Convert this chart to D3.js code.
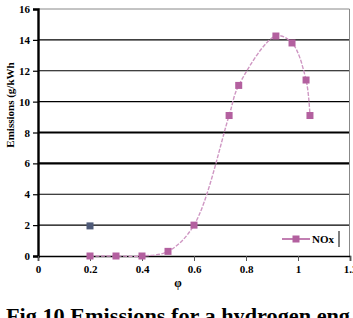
<!DOCTYPE html>
<html>
<head>
<meta charset="utf-8">
<script src="https://cdn.jsdelivr.net/npm/d3@7"></script>
<style>
  body { margin: 0; background: #fff; }
  svg { display: block; }
  text { font-family: "Liberation Serif", "Times New Roman", serif; font-weight: bold; }
</style>
</head>
<body>
<div id="chart"></div>
<script>
var phi = [0.2, 0.3, 0.4, 0.5, 0.6, 0.735, 0.772, 0.915, 0.977, 1.031, 1.046];
var nox = [0, 0, 0, 0.3, 2, 9.1, 11.05, 14.25, 13.8, 11.4, 9.1];
var extraPhi = [0.2];
var extraVal = [1.95];
var xTicks = [0, 0.2, 0.4, 0.6, 0.8, 1, 1.2];
var xTickLabels = ["0", "0.2", "0.4", "0.6", "0.8", "1", "1.2"];
var yTicks = [0, 2, 4, 6, 8, 10, 12, 14, 16];
var thickGrid = [6, 8];

var W = 353, H = 318;
var svg = d3.select("#chart").append("svg")
    .attr("width", W)
    .attr("height", H);

var x = d3.scaleLinear().domain([0, 1.2]).range([38, 350]);
var y = d3.scaleLinear().domain([0, 16]).range([256, 9]);

// gridlines
svg.append("g").selectAll("line")
    .data(yTicks.filter(function(d) { return d > 0 && d < 16; }))
    .enter().append("line")
    .attr("x1", x(0)).attr("x2", 349)
    .attr("y1", function(d) { return y(d); })
    .attr("y2", function(d) { return y(d); })
    .attr("stroke", "#000")
    .attr("stroke-width", function(d) { return thickGrid.indexOf(d) >= 0 ? 2.2 : 1.2; });

// plot border top / right (gray)
svg.append("line").attr("x1", x(0)).attr("x2", 349.5)
    .attr("y1", y(16)).attr("y2", y(16))
    .attr("stroke", "#888").attr("stroke-width", 1);
svg.append("line").attr("x1", 349.5).attr("x2", 349.5)
    .attr("y1", y(16)).attr("y2", y(0))
    .attr("stroke", "#888").attr("stroke-width", 1);

// y axis
var yAxis = d3.axisLeft(y).tickValues(yTicks).tickSize(5).tickFormat(d3.format("d"));
var gy = svg.append("g").attr("transform", "translate(" + x(0) + ",0)").call(yAxis);
gy.select(".domain").attr("stroke-width", 2.4);
gy.selectAll(".tick line").attr("stroke-width", 1.2);
gy.selectAll("text").attr("font-size", 11).attr("x", -8)
    .attr("font-family", "Liberation Serif").attr("font-weight", "bold");

// x axis
var xAxis = d3.axisBottom(x).tickValues(xTicks).tickSize(5)
    .tickFormat(function(d, i) { return xTickLabels[i]; });
var gx = svg.append("g").attr("transform", "translate(0," + y(0) + ")").call(xAxis);
gx.select(".domain").attr("stroke-width", 1.6);
gx.selectAll(".tick line").attr("stroke", "#555");
gx.selectAll("text").attr("font-size", 11).attr("y", 9)
    .attr("font-family", "Liberation Serif").attr("font-weight", "bold");

// smooth NOx line
var pts = phi.map(function(p, i) { return [p, nox[i]]; });
var line = d3.line()
    .x(function(d) { return x(d[0]); })
    .y(function(d) { return y(d[1]); })
    .curve(d3.curveCatmullRom.alpha(0.5));
svg.append("path")
    .datum(pts)
    .attr("d", line)
    .attr("fill", "none")
    .attr("stroke", "#cf97c3")
    .attr("stroke-width", 1.4)
    .attr("stroke-dasharray", "4,1.5");

// markers
svg.append("g").selectAll("rect")
    .data(pts)
    .enter().append("rect")
    .attr("x", function(d) { return x(d[0]) - 3.5; })
    .attr("y", function(d) { return y(d[1]) - 3.5; })
    .attr("width", 7).attr("height", 7)
    .attr("fill", "#b3609f");

svg.append("g").selectAll("rect")
    .data(extraPhi.map(function(p, i) { return [p, extraVal[i]]; }))
    .enter().append("rect")
    .attr("x", function(d) { return x(d[0]) - 3.5; })
    .attr("y", function(d) { return y(d[1]) - 3.5; })
    .attr("width", 7).attr("height", 7)
    .attr("fill", "#4e5a78");

// legend
var lg = svg.append("g").attr("transform", "translate(282,239)");
lg.append("line").attr("x1", 0).attr("x2", 28).attr("y1", 0).attr("y2", 0)
    .attr("stroke", "#b3609f").attr("stroke-width", 1.6);
lg.append("rect").attr("x", 10.5).attr("y", -3.5).attr("width", 7).attr("height", 7)
    .attr("fill", "#b3609f");
lg.append("text").attr("x", 30).attr("y", 4).attr("font-size", 11).text("NOx");
lg.append("line").attr("x1", 57).attr("x2", 57).attr("y1", -8).attr("y2", 8)
    .attr("stroke", "#000").attr("stroke-width", 1);

// axis titles
svg.append("text")
    .attr("transform", "translate(14,105) rotate(-90)")
    .attr("text-anchor", "middle")
    .attr("font-size", 11)
    .text("Emissions (g/kWh");
svg.append("text")
    .attr("x", 178).attr("y", 287)
    .attr("text-anchor", "middle")
    .attr("font-size", 12)
    .text("φ");

// caption (cut off at the bottom edge, as in the source image)
svg.append("text")
    .attr("x", 6).attr("y", 323)
    .attr("font-size", 21)
    .attr("textLength", 344)
    .attr("lengthAdjust", "spacingAndGlyphs")
    .text("Fig.10 Emissions for a hydrogen eng");
</script>
</body>
</html>
